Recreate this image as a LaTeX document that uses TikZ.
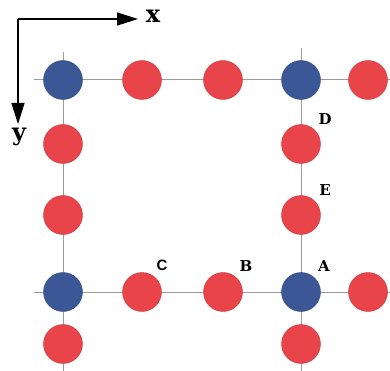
\documentclass[tikz,border=0pt]{standalone}
\usepackage{fontspec}
\setmainfont{DejaVu Serif}
\setsansfont{Liberation Sans}
\usetikzlibrary{arrows.meta}
\definecolor{siteblue}{HTML}{3B5795}
\definecolor{sitered}{HTML}{E8444A}
\definecolor{bondgray}{HTML}{9A9A9A}
\tikzset{
  bond/.style={draw=bondgray, line width=1pt},
  atom/.style={circle, minimum size=39pt, inner sep=0pt},
  corner/.style={atom, fill=siteblue, draw=siteblue!85!black, line width=0.4pt},
  edge/.style={atom, fill=sitered, draw=sitered!85!black, line width=0.4pt},
  axis/.style={line width=1.3pt, -{Triangle[length=21pt,width=13pt]}},
  lbl/.style={font=\bfseries\fontsize{15}{15}\selectfont, inner sep=0pt},
  axlbl/.style={font=\bfseries\fontsize{24}{24}\selectfont, inner sep=0pt},
}
\begin{document}
\begin{tikzpicture}[x=1pt, y=-1pt]
\useasboundingbox (0,0) rectangle (390,371);
% coordinate axes
\coordinate (o) at (18,19);
\coordinate (xe) at (138,19);
\coordinate (ye) at (18,124);
\draw[axis] (o) -- (xe);
\draw[axis] (o) -- (ye);
\node[axlbl] (xl) at (153,16) {x};
\node[axlbl] (yl) at (19,137) {y};
% bond lines
\coordinate (h1a) at (34,80);  \coordinate (h1b) at (390,80);
\coordinate (h2a) at (34,292); \coordinate (h2b) at (390,292);
\coordinate (v1a) at (63,52);  \coordinate (v1b) at (63,371);
\coordinate (v2a) at (301,48); \coordinate (v2b) at (301,371);
\draw[bond] (h1a) -- (h1b);
\draw[bond] (h2a) -- (h2b);
\draw[bond] (v1a) -- (v1b);
\draw[bond] (v2a) -- (v2b);
% corner sites
\node[corner] (c1) at (63,80) {};
\node[corner] (c2) at (301,80) {};
\node[corner] (c3) at (63,292) {};
\node[corner] (c4) at (301,292) {};
% edge sites, top row
\node[edge] (t1) at (142,80) {};
\node[edge] (t2) at (223,80) {};
\node[edge] (t3) at (368,80) {};
% edge sites, bottom row
\node[edge] (b1) at (142,292) {};
\node[edge] (b2) at (223,292) {};
\node[edge] (b3) at (368,292) {};
% edge sites, left column
\node[edge] (l1) at (63,144) {};
\node[edge] (l2) at (63,215) {};
\node[edge] (l3) at (63,344) {};
% edge sites, right column
\node[edge] (r1) at (301,144) {};
\node[edge] (r2) at (301,215) {};
\node[edge] (r3) at (301,344) {};
% labels
\node[lbl] (D) at (325,119) {D};
\node[lbl] (E) at (325,190) {E};
\node[lbl] (A) at (324,266) {A};
\node[lbl] (B) at (246,266) {B};
\node[lbl, font=\sffamily\bfseries\fontsize{15}{15}\selectfont] (C) at (162,265) {C};
\end{tikzpicture}
\end{document}
